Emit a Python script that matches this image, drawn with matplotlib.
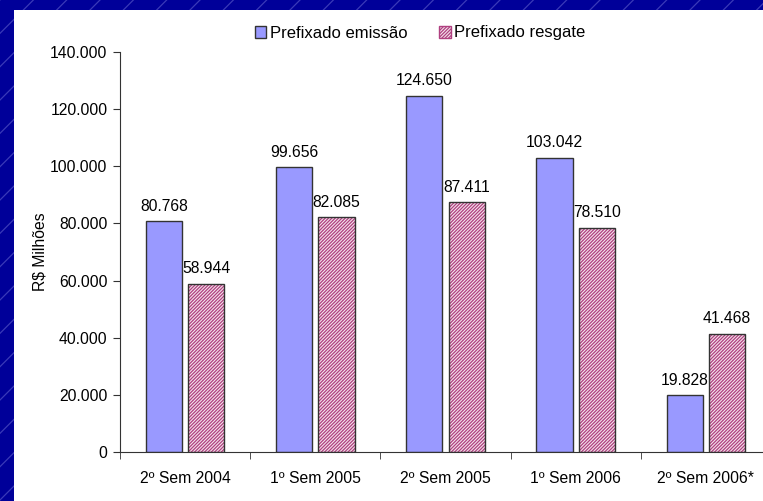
import numpy as np
import matplotlib.pyplot as plt
from matplotlib.patches import Rectangle, Patch

categorias = ['2º Sem 2004', '1º Sem 2005', '2º Sem 2005', '1º Sem 2006', '2º Sem 2006*']
emissao = [80768, 99656, 124650, 103042, 19828]
resgate = [58944, 82085, 87411, 78510, 41468]
rotulos_y = ['0', '20.000', '40.000', '60.000', '80.000', '100.000', '120.000', '140.000']

plt.rcParams['font.family'] = ['Liberation Sans', 'DejaVu Sans']
plt.rcParams['hatch.linewidth'] = 0.9

fig = plt.figure(figsize=(7.63, 5.01), dpi=100)

# fundo azul com listras diagonais
fundo = Rectangle((0, 0), 1, 1, transform=fig.transFigure, facecolor='#000099',
                  edgecolor='#3a3ab8', hatch='/', linewidth=0, zorder=-10)
fig.patches.append(fundo)
painel = Rectangle((14 / 763, 0), 1, 1 - 10 / 501, transform=fig.transFigure,
                   facecolor='white', edgecolor='none', zorder=-9)
fig.patches.append(painel)

ax = fig.add_axes([120 / 763, 49 / 501, 651 / 763, 400 / 501])
ax.set_facecolor('none')

x = np.arange(len(categorias))
w = 0.277
d = 0.163
fs = 11.3

ax.bar(x - d, emissao, w, color='#9999ff', edgecolor='#333333', linewidth=1)
# barras hachuradas: hachura rosa + contorno escuro
ax.bar(x + d, resgate, w, color='#f4e4ec', edgecolor='#b04080', hatch='//////////', linewidth=0)
ax.bar(x + d, resgate, w, fill=False, edgecolor='#333333', linewidth=1)

fmt = lambda v: f'{v:,}'.replace(',', '.')
for xi, v in zip(x, emissao):
    ax.text(xi - d, v + 2600, fmt(v), ha='center', va='bottom', fontsize=fs)
for xi, v in zip(x, resgate):
    ax.text(xi + d, v + 2600, fmt(v), ha='center', va='bottom', fontsize=fs)

ax.set_xlim(-0.5, 4.5)
ax.set_ylim(0, 140000)
ax.set_yticks(np.arange(0, 140001, 20000))
ax.set_yticklabels(rotulos_y, fontsize=fs)
ax.set_xticks(x)
ax.set_xticklabels(categorias, fontsize=fs)
ax.set_xticks(np.arange(-0.5, 5, 1), minor=True)
ax.tick_params(axis='x', which='major', length=0, pad=14)
ax.tick_params(axis='x', which='minor', length=5, direction='out', color='#333333')
ax.tick_params(axis='y', length=5, color='#333333', pad=4)
ax.spines['top'].set_visible(False)
ax.spines['right'].set_visible(False)
ax.spines['left'].set_color('#333333')
ax.spines['bottom'].set_color('#333333')
ax.set_ylabel('R$ Milhões', fontsize=fs, labelpad=2)

# legenda
h1 = Patch(facecolor='#9999ff', edgecolor='#333333', label='Prefixado emissão')
h2 = Patch(facecolor='#f4e4ec', edgecolor='#b04080', hatch='//////////', label='Prefixado resgate')
fig.legend(handles=[h1, h2], loc='center', bbox_to_anchor=(420 / 763, 1 - 33 / 501),
           ncol=2, frameon=False, fontsize=12, handlelength=0.7, handleheight=0.7,
           handletextpad=0.2, columnspacing=1.9)

fig.savefig('out.png', dpi=100)
